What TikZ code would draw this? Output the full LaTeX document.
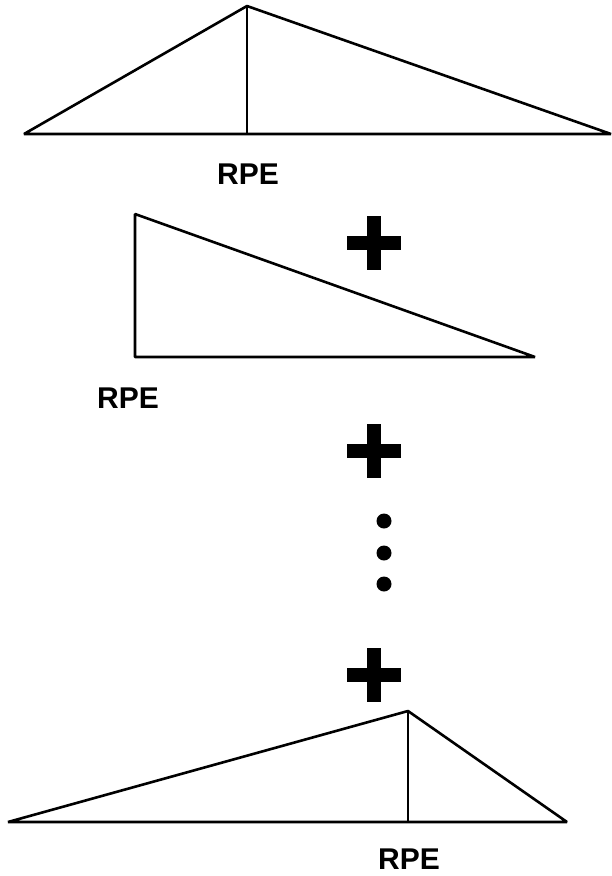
\documentclass[tikz,border=0pt]{standalone}
\usepackage{fontspec}
\setmainfont{Liberation Sans}
\usetikzlibrary{positioning}

\begin{document}
\begin{tikzpicture}[x=1pt, y=-1pt,
    edge/.style={line width=2.6pt, line join=bevel},
    rpetext/.style={font=\bfseries\fontsize{30}{33}\selectfont, inner sep=0pt},
    crossmark/.pic={\fill (-27,-7) rectangle (27,7); \fill (-7,-27) rectangle (7,27);}
]
    \useasboundingbox (0,0) rectangle (612,876);

    % first shape
    \coordinate (topL) at (24,134);
    \coordinate (topA) at (247,6);
    \coordinate (topR) at (611,134);
    \coordinate (topF) at (247,134);
    \draw [edge] (topL) -- (topA) -- (topR) -- cycle;
    \draw [edge] (topA) -- (topF);
    \node [rpetext] (rpeA) at (248,174) {RPE};

    % second shape
    \coordinate (midT) at (135,214);
    \coordinate (midL) at (135,357);
    \coordinate (midR) at (535,357);
    \draw [edge] (midT) -- (midL) -- (midR) -- cycle;
    \node [rpetext] (rpeB) at (128,398) {RPE};

    \pic at (374,243) {crossmark};
    \pic at (374,451) {crossmark};
    \pic at (374,675) {crossmark};

    \foreach \y in {521,553,584}
        \fill (384,\y) circle (7.5pt);

    % last shape
    \coordinate (botL) at (8,822);
    \coordinate (botA) at (408,711);
    \coordinate (botR) at (567,822);
    \coordinate (botF) at (408,822);
    \draw [edge] (botL) -- (botA) -- (botR) -- cycle;
    \draw [edge] (botA) -- (botF);
    \node [rpetext] (rpeC) at (409,859) {RPE};
\end{tikzpicture}
\end{document}
